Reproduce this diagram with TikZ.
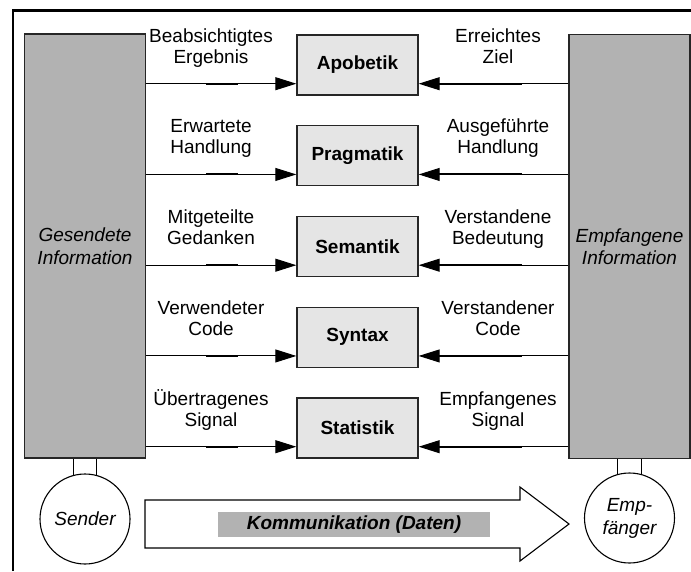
\documentclass[tikz,border=0pt]{standalone}
\usepackage{fontspec}
\setmainfont{Liberation Sans}
\usetikzlibrary{arrows.meta,calc}
\begin{document}
\begin{tikzpicture}[x=1pt,y=-1pt,
  font=\fontsize{19}{21}\selectfont,
  frame/.style={line width=2.4pt},
  sidebox/.style={draw=black!85, line width=1.3pt, fill=black!30,
    minimum width=121pt, minimum height=424pt, inner sep=0pt, align=center,
    font=\fontsize{19}{22.5}\selectfont\itshape},
  layerbox/.style={draw=black!85, line width=1.4pt, fill=black!10,
    minimum width=121pt, minimum height=60pt, inner sep=0pt,
    font=\fontsize{19}{21}\selectfont\bfseries},
  conn/.style={line width=1pt, -{Triangle[length=21pt,width=13pt]}},
  heavy/.style={line width=2pt},
  lbl/.style={align=center, anchor=base, inner sep=0pt},
  station/.style={circle, draw, line width=1.1pt, fill=white,
    minimum size=90pt, inner sep=0pt, align=center,
    font=\fontsize{19}{23}\selectfont\itshape},
  stub/.style={line width=1.1pt},
  bigarrow/.style={draw, line width=1.1pt, fill=white, line join=miter},
  databar/.style={fill=black!30, minimum width=272pt, minimum height=25pt,
    inner sep=0pt, font=\fontsize{19}{21}\selectfont\bfseries\itshape}
]
\useasboundingbox (0,0) rectangle (691,571);

% outer frame (open towards the right and the bottom)
\draw[frame] (13,571) -- (13,10.5) -- (691,10.5);

% sender and receiver side
\node[sidebox] (send) at (85,246) {Gesendete\\Information};
\node[sidebox] (recv) at (629.5,246.5) {Empfangene\\Information};

% the five layers with their arrows and labels
\foreach \n/\t/\ty/\lt/\rt in {
  apo/Apobetik/35/{Beabsichtigtes\\Ergebnis}/{Erreichtes\\Ziel},
  pra/Pragmatik/125.75/{Erwartete\\Handlung}/{Ausgeführte\\Handlung},
  sem/Semantik/216.5/{Mitgeteilte\\Gedanken}/{Verstandene\\Bedeutung},
  syn/Syntax/307.25/{Verwendeter\\Code}/{Verstandener\\Code},
  sta/Statistik/398/{Übertragenes\\Signal}/{Empfangenes\\Signal}}{
  \node[layerbox] (\n) at (357.5,\ty+30) {\t};
  \coordinate (\n-l) at ($(\n.south west)+(0,-12)$);
  \coordinate (\n-r) at ($(\n.south east)+(0,-12)$);
  \draw[conn] (send.east |- \n-l) -- (\n-l);
  \draw[conn] (recv.west |- \n-r) -- (\n-r);
  \draw[heavy] ($(send.east |- \n-l)+(60,0)$) -- ($(send.east |- \n-l)+(92,0)$);
  \draw[heavy] ($(\n-r)+(20,0)$) -- ($(recv.west |- \n-r)+(-46,0)$);
  \node[lbl] (\n-sent) at (211,\ty+28) {\lt};
  \node[lbl] (\n-recv) at (498,\ty+28) {\rt};
}

% stations
\node[station] (sender) at (85,519) {Sender};
\node[station] (empf) at (629.5,518) {Emp-\\fänger};
\draw[stub] (sender.105) -- (sender.105 |- send.south);
\draw[stub] (sender.75) -- (sender.75 |- send.south);
\draw[stub] (empf.105) -- (empf.105 |- recv.south);
\draw[stub] (empf.75) -- (empf.75 |- recv.south);

% communication arrow
\draw[bigarrow] (145,500) -- (520,500) -- (520,487) -- (569,524)
  -- (520,561) -- (520,548) -- (145,548) -- cycle;
\node[databar] (komm) at (354,524.5) {Kommunikation (Daten)};
\end{tikzpicture}
\end{document}
